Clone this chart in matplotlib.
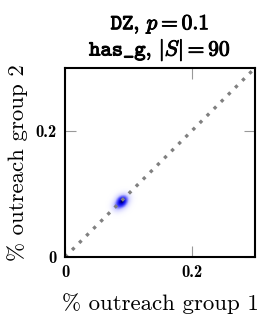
import numpy as np
import matplotlib
matplotlib.use("Agg")
import matplotlib.pyplot as plt
import matplotlib.patheffects as pe
from matplotlib.colors import LinearSegmentedColormap

plt.rcParams['font.family'] = ['cmr10', 'DejaVu Serif']
plt.rcParams['mathtext.fontset'] = 'cm'
plt.rcParams['axes.formatter.use_mathtext'] = True

# outreach samples (group 1, group 2)
outreach_g1 = [0.080, 0.084, 0.087, 0.090, 0.092, 0.095, 0.089, 0.086, 0.091, 0.098, 0.082, 0.093, 0.090, 0.088]
outreach_g2 = [0.080, 0.083, 0.087, 0.089, 0.091, 0.093, 0.092, 0.082, 0.086, 0.095, 0.078, 0.084, 0.088, 0.090]
ticks = [0, 0.2]
tick_labels = ['0', '0.2']

fig = plt.figure(figsize=(2.7, 3.26), dpi=100)
ax = fig.add_axes([65/270, 1-257/326, 190/270, 189/326])

gx = np.linspace(0, 0.3, 300)
gy = np.linspace(0, 0.3, 300)
X, Y = np.meshgrid(gx, gy)
Z = np.zeros_like(X)
bw = 0.006
for a, b in zip(outreach_g1, outreach_g2):
    Z += np.exp(-((X-a)**2 + (Y-b)**2)/(2*bw**2))
Z /= Z.max()
cmap = LinearSegmentedColormap.from_list('wb', [(0, '#ffffff'), (0.3, '#d0d0ff'), (0.65, '#4040ff'), (0.9, '#0000e0'), (1, '#000060')])
ax.imshow(Z, origin='lower', extent=[0, 0.3, 0, 0.3], cmap=cmap, vmin=0, vmax=1, aspect='auto', interpolation='bilinear')

ax.plot([0, 0.3], [0, 0.3], linestyle=(0, (1, 2.0)), color='#808080', linewidth=2.4)

ax.set_xlim(0, 0.3)
ax.set_ylim(0, 0.3)
ax.set_xticks(ticks)
ax.set_xticklabels(tick_labels)
ax.set_yticks(ticks)
ax.set_yticklabels(tick_labels)
ax.tick_params(direction='in', top=True, right=True, labelsize=12, length=8, width=0.8, color='#999999', pad=6)
for lab in ax.get_xticklabels() + ax.get_yticklabels():
    lab.set_fontfamily(['cmb10', 'DejaVu Serif'])
for s in ax.spines.values():
    s.set_linewidth(1.5)

ax.set_xlabel('% outreach group 1', fontsize=16.5, labelpad=9)
ax.set_ylabel('% outreach group 2', fontsize=16.5, labelpad=5)
t = ax.set_title(r'$\mathtt{DZ}$, $p=0.1$' + '\n' + r'$\mathtt{has\_g}$, $|S|=90$', fontsize=15.5, pad=9, linespacing=1.1)
t.set_path_effects([pe.withStroke(linewidth=0.7, foreground='black')])

fig.savefig('out.png', dpi=100)
